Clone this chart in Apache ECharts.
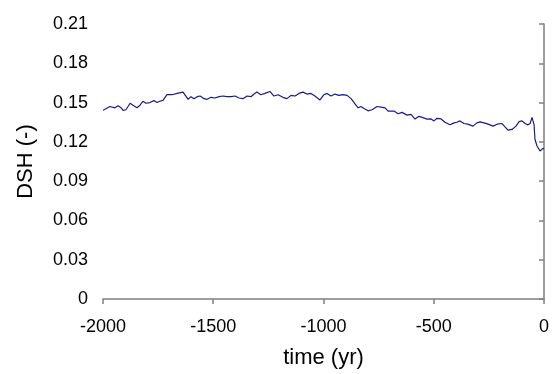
<!DOCTYPE html>
<html>
<head>
<meta charset="utf-8">
<script src="https://cdn.jsdelivr.net/npm/echarts@6/dist/echarts.min.js"></script>
<style>
html,body{margin:0;padding:0;background:#fff;}
#chart{width:552px;height:374px;}
</style>
</head>
<body>
<div id="chart"></div>
<script>
const timeYr = [-2000,-1991,-1968,-1946,-1932,-1918,-1909,-1896,-1877,-1864,-1846,-1832,-1819,-1805,-1787,-1769,-1755,-1742,-1728,-1710,-1687,-1664,-1637,-1628,-1614,-1601,-1587,-1573,-1560,-1542,-1528,-1510,-1492,-1474,-1456,-1438,-1420,-1401,-1383,-1365,-1347,-1329,-1315,-1302,-1284,-1265,-1243,-1225,-1206,-1184,-1166,-1147,-1129,-1111,-1093,-1075,-1057,-1039,-1016,-998,-984,-966,-948,-930,-912,-893,-875,-857,-843,-830,-816,-798,-780,-757,-739,-721,-707,-698,-680,-662,-644,-621,-603,-585,-567,-549,-531,-512,-499,-485,-467,-449,-426,-408,-395,-381,-363,-345,-322,-304,-290,-272,-254,-231,-213,-190,-177,-163,-145,-127,-113,-100,-86,-73,-63,-54,-50,-45,-41,-32,-25,-18,-11,-5,0];
const dsh = [0.1442,0.145,0.147,0.146,0.1475,0.146,0.144,0.1445,0.1495,0.148,0.146,0.148,0.151,0.1495,0.150,0.1515,0.150,0.151,0.1517,0.156,0.156,0.157,0.158,0.157,0.1525,0.1545,0.153,0.1545,0.155,0.153,0.1525,0.154,0.1535,0.1545,0.155,0.1545,0.1545,0.155,0.1535,0.153,0.155,0.1545,0.1565,0.158,0.156,0.157,0.1585,0.155,0.156,0.154,0.153,0.1555,0.155,0.157,0.158,0.1565,0.157,0.155,0.152,0.156,0.157,0.155,0.1565,0.1555,0.156,0.1555,0.153,0.149,0.146,0.147,0.1455,0.1437,0.1445,0.147,0.1465,0.146,0.1435,0.142,0.1435,0.1415,0.1425,0.1404,0.141,0.1374,0.1395,0.1385,0.1374,0.1375,0.136,0.138,0.1375,0.135,0.133,0.1345,0.135,0.136,0.134,0.1335,0.132,0.1345,0.1353,0.1345,0.1335,0.132,0.1335,0.134,0.1315,0.129,0.1295,0.132,0.1355,0.136,0.134,0.133,0.134,0.1387,0.139,0.133,0.122,0.117,0.118,0.113,0.1135,0.115,0.1148];
const xTicks = [-2000,-1500,-1000,-500,0];
const yTickLabels = ['0','0.03','0.06','0.09','0.12','0.15','0.18','0.21'];

const chart = echarts.init(document.getElementById('chart'));
const axisColor = '#808080';
const fontFam = '"Liberation Sans", Arial, sans-serif';
chart.setOption({
  animation: false,
  backgroundColor: '#ffffff',
  grid: {left: 103, right: 8, top: 24, bottom: 72.5, containLabel: false},
  xAxis: {
    type: 'value', min: -2000, max: 0, interval: 500,
    name: 'time (yr)', nameLocation: 'middle', nameGap: 48,
    nameTextStyle: {fontSize: 22, color: '#000', fontFamily: fontFam},
    axisLine: {show: true, onZero: false, lineStyle: {color: axisColor, width: 1.5}},
    axisTick: {show: true, inside: false, length: 5, lineStyle: {color: axisColor, width: 1.5}},
    axisLabel: {fontSize: 18, color: '#000', fontFamily: fontFam, margin: 19,
      formatter: v => String(xTicks[xTicks.indexOf(v)])},
    splitLine: {show: false}
  },
  yAxis: {
    type: 'value', min: 0, max: 0.21, interval: 0.03,
    name: 'DSH (-)', nameLocation: 'middle', nameGap: 66, nameRotate: 90,
    nameTextStyle: {fontSize: 22, color: '#000', fontFamily: fontFam},
    axisLine: {show: true, lineStyle: {color: axisColor, width: 1.5}},
    axisTick: {show: true, inside: false, length: 5, lineStyle: {color: axisColor, width: 1.5}},
    axisLabel: {fontSize: 18, color: '#000', fontFamily: fontFam, margin: 15,
      formatter: v => yTickLabels[Math.round(v / 0.03)]},
    splitLine: {show: false}
  },
  series: [{
    type: 'line',
    data: timeYr.map((t, i) => [t, dsh[i]]),
    showSymbol: false, symbol: 'none',
    lineStyle: {color: '#1a1a8c', width: 1.2},
    smooth: false
  }]
});
</script>
</body>
</html>
